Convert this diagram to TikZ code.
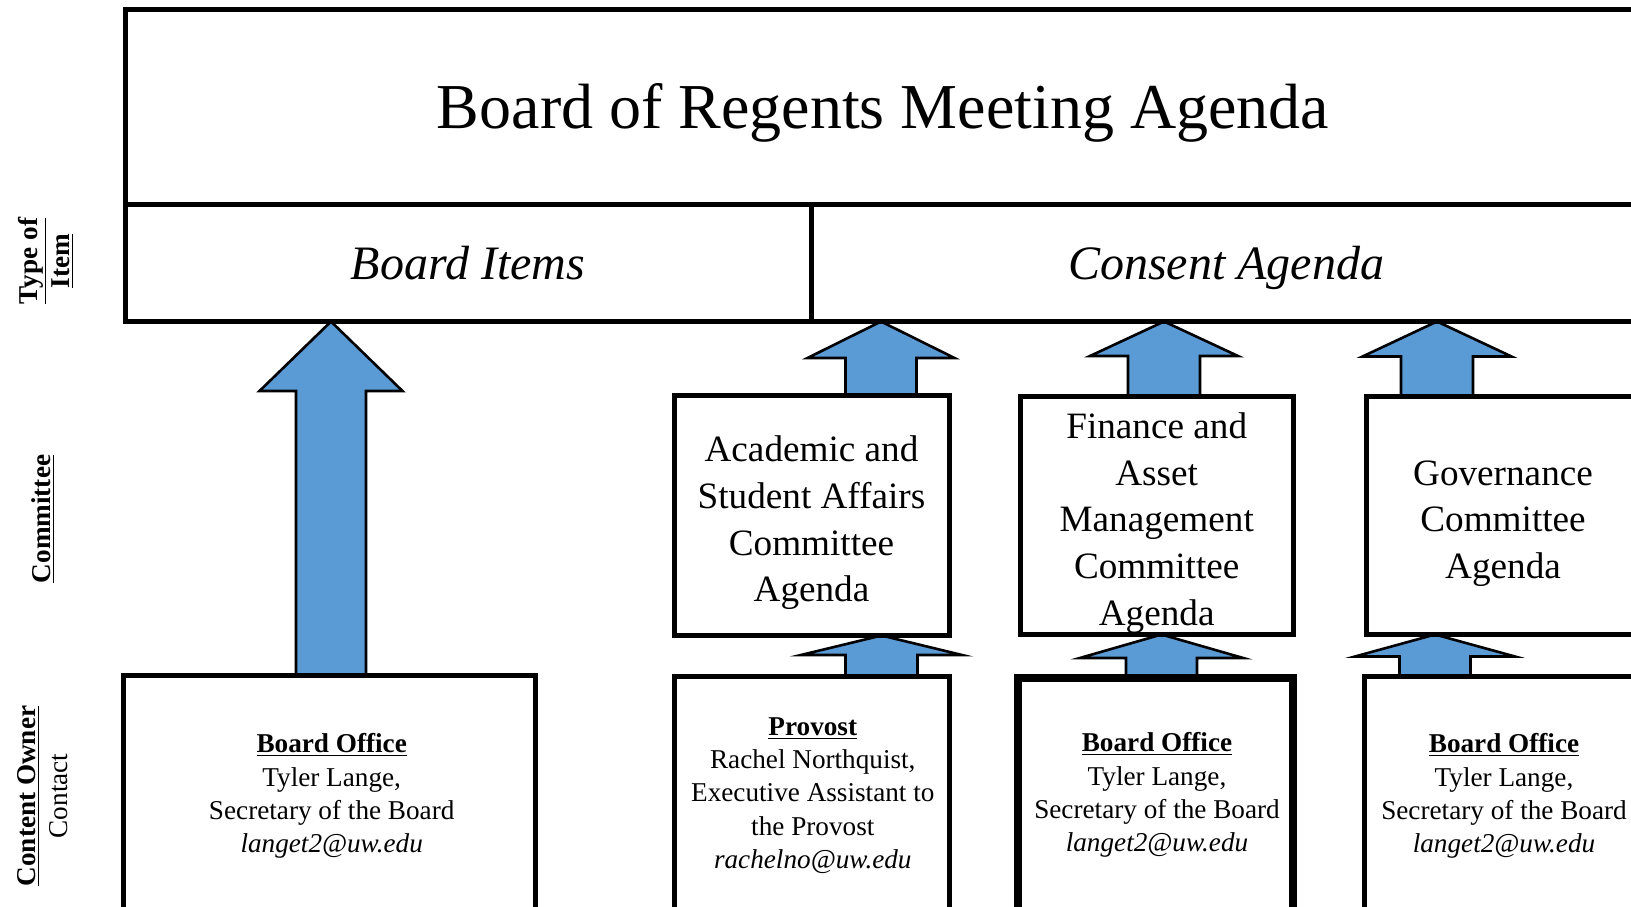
\documentclass[tikz,border=0pt]{standalone}
\usepackage{fontspec}
\setmainfont{Liberation Serif}
\usetikzlibrary{calc,fit}
\definecolor{arrowblue}{HTML}{5B9BD5}
\pgfdeclarelayer{bg}
\pgfsetlayers{bg,main}
\tikzset{
  box/.style={draw=black, line width=2.5pt, rectangle, inner sep=0pt, outer sep=0pt},
  thickbox/.style={box, line width=4pt},
  barrow/.style={fill=arrowblue, draw=black, line width=1.3pt, line join=miter},
  txt/.style={anchor=base, inner sep=0pt, outer sep=0pt, align=flush center, text width=#1},
  txt/.default=200pt,
  contact/.style={txt=200pt, font=\fontsize{13.6}{16.7}\selectfont},
  cmte/.style={txt=150pt, font=\fontsize{18.6}{23.35}\selectfont},
  itemlbl/.style={txt=200pt, font=\fontsize{24}{28}\selectfont\itshape},
  rowlbl/.style={txt=100pt, rotate=90, font=\fontsize{13.6}{16.3}\selectfont},
}
\newcommand\blockup[6]{%
  \coordinate (ax) at (#1,0);
  \coordinate (abot) at (#2.north -| ax);
  \coordinate (atop) at (#3.south -| ax);
  \draw[barrow] ($(abot)+(-#4,0)$) -- ($(atop)+(-#4,#6)$) -- ($(atop)+(-#5,#6)$) -- (atop)
    -- ($(atop)+(#5,#6)$) -- ($(atop)+(#4,#6)$) -- ($(abot)+(#4,0)$) -- cycle;}
\begin{document}
\begin{tikzpicture}[x=0.5pt,y=-0.5pt]
\useasboundingbox (0,0) rectangle (1631,906);
\clip (0,0) rectangle (1631,906);
% top boxes
\node[box, fit={(125.5,9) (1680,204)}] (title) {};
\node[box, fit={(125.5,204) (811,321.5)}] (items) {};
\node[box, fit={(811,204) (1680,321.5)}] (consent) {};
% committee boxes
\node[box, fit={(674,395.5) (949,635.5)}] (acad) {};
\node[box, fit={(1020,396) (1293,634.5)}] (fin) {};
\node[box, fit={(1366.7,396) (1640,634.5)}] (gov) {};
% contact boxes
\node[box, fit={(123.5,675) (535.5,930)}] (bo1) {};
\node[box, fit={(674,676) (949,930)}] (prov) {};
\node[thickbox, fit={(1018,677.5) (1292.7,930)}] (bo2) {};
\node[box, fit={(1364,676) (1680,930)}] (bo3) {};
% arrows
\begin{pgfonlayer}{bg}
\blockup{331}{bo1}{items}{35}{71.5}{69.5}
\blockup{881}{acad}{consent}{35.5}{73.5}{36.5}
\blockup{881.5}{prov}{acad}{36}{80.6}{19.5}
\blockup{1164}{fin}{consent}{36}{74}{34.5}
\blockup{1161.5}{bo2}{fin}{35.5}{81.7}{23.5}
\blockup{1437}{gov}{consent}{36}{74.5}{35}
\blockup{1435}{bo3}{gov}{35.5}{80}{22}
\end{pgfonlayer}
% texts
\node[txt=600pt, font=\fontsize{32}{38}\selectfont] (ttitle) at (883,128.3) {Board of Regents Meeting Agenda};
\node[itemlbl] (titems) at (468,279.3) {Board Items};
\node[itemlbl] (tconsent) at (1226,279.3) {Consent Agenda};
\node[cmte] (tacad) at (811.5,461.7) {Academic and\\Student Affairs\\Committee\\Agenda};
\node[cmte] (tfin) at (1156.7,438.3) {Finance and\\Asset\\Management\\Committee\\Agenda};
\node[cmte] (tgov) at (1503,485) {Governance\\Committee\\Agenda};
\node[contact] (tbo1) at (331.7,752.7) {\textbf{\underline{Board Office}}\\Tyler Lange,\\Secretary of the Board\\\textit{langet2@uw.edu}};
\node[contact] (tprov) at (812.8,735) {\textbf{\underline{Provost}}\\Rachel Northquist,\\Executive Assistant to\\the Provost\\\textit{rachelno@uw.edu}};
\node[contact] (tbo2) at (1157,751.7) {\textbf{\underline{Board Office}}\\Tyler Lange,\\Secretary of the Board\\\textit{langet2@uw.edu}};
\node[contact] (tbo3) at (1504,752.7) {\textbf{\underline{Board Office}}\\Tyler Lange,\\Secretary of the Board\\\textit{langet2@uw.edu}};
% row labels
\node[rowlbl] (ltype) at (37,261) {\textbf{\underline{Type of}}\\\textbf{\underline{Item}}};
\node[rowlbl] (lcmte) at (50,519) {\textbf{\underline{Committee}}};
\node[rowlbl] (lowner) at (35,796) {\textbf{\underline{Content Owner}}\\Contact};
\end{tikzpicture}
\end{document}
